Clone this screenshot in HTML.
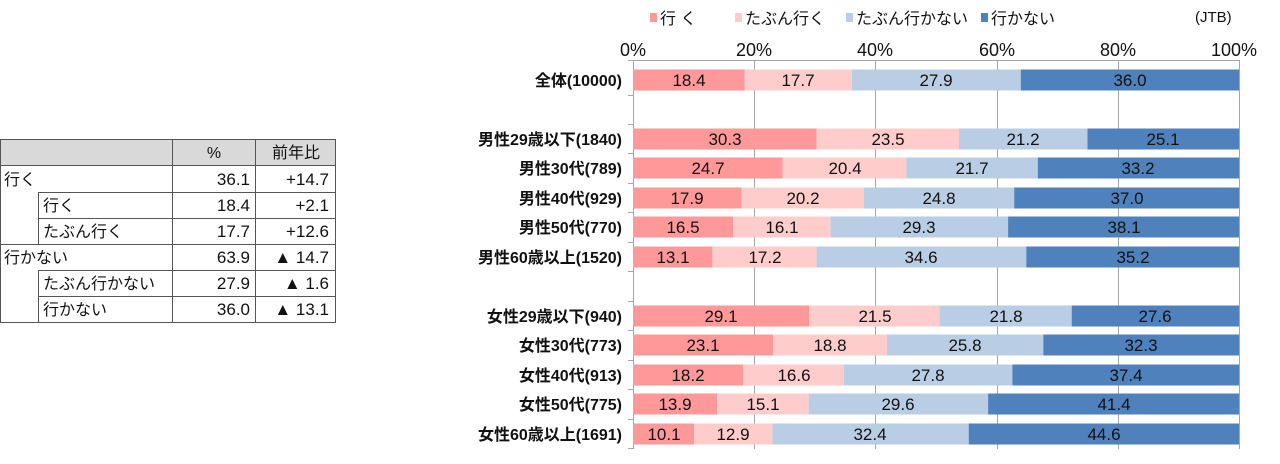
<!DOCTYPE html>
<html><head><meta charset="utf-8"><style>
html,body{margin:0;padding:0;background:#fff;}
svg{display:block;font-family:"Liberation Sans","Noto Sans CJK JP",sans-serif;}
</style></head><body>
<svg width="1280" height="464" viewBox="0 0 1280 464">
<rect x="0.5" y="139.5" width="335" height="26" fill="#d9d9d9"/>
<g stroke="#555" stroke-width="1" fill="none">
<rect x="0.5" y="139.5" width="335" height="183"/>
<line x1="0" y1="165.5" x2="336" y2="165.5"/>
<line x1="38.5" y1="192.5" x2="336" y2="192.5"/>
<line x1="38.5" y1="218.5" x2="336" y2="218.5"/>
<line x1="0" y1="244.5" x2="336" y2="244.5"/>
<line x1="38.5" y1="270.5" x2="336" y2="270.5"/>
<line x1="38.5" y1="296.5" x2="336" y2="296.5"/>
<line x1="38.5" y1="192" x2="38.5" y2="244"/>
<line x1="38.5" y1="270" x2="38.5" y2="322"/>
<line x1="172.5" y1="139" x2="172.5" y2="322"/>
<line x1="255.5" y1="139" x2="255.5" y2="322"/>
</g>
<g font-size="16" fill="#111">
<text x="214" y="158" text-anchor="middle">%</text>
<text x="296" y="158" text-anchor="middle">前年比</text>
<text x="4" y="185">行く</text>
<text x="43" y="211">行く</text>
<text x="43" y="237">たぶん行く</text>
<text x="4" y="263">行かない</text>
<text x="43" y="289">たぶん行かない</text>
<text x="43" y="315">行かない</text>
<g text-anchor="end" font-size="17">
<text x="250" y="185">36.1</text><text x="329" y="185">+14.7</text>
<text x="250" y="211">18.4</text><text x="329" y="211">+2.1</text>
<text x="250" y="237">17.7</text><text x="329" y="237">+12.6</text>
<text x="250" y="263">63.9</text><text x="329" y="263">▲ 14.7</text>
<text x="250" y="289">27.9</text><text x="329" y="289">▲ 1.6</text>
<text x="250" y="315">36.0</text><text x="329" y="315">▲ 13.1</text>
</g></g>

<g font-size="16" fill="#111">
<rect x="650" y="13" width="7" height="9" fill="#ff9999"/><text x="660" y="24">行 く</text>
<rect x="735" y="13" width="7" height="9" fill="#ffcccc"/><text x="745" y="24">たぶん行く</text>
<rect x="846" y="13" width="7" height="9" fill="#b9cde5"/><text x="856" y="24">たぶん行かない</text>
<rect x="981" y="13" width="7" height="9" fill="#4f81bd"/><text x="991" y="24">行かない</text>
<text x="1195" y="22" font-size="15">(JTB)</text>
</g>
<g font-size="18" fill="#111" text-anchor="middle">
<text x="633" y="56">0%</text><text x="754" y="56">20%</text><text x="875" y="56">40%</text>
<text x="997" y="56">60%</text><text x="1118" y="56">80%</text><text x="1234" y="56">100%</text>
</g>
<g stroke="#a6a6a6" stroke-width="1">
<line x1="633.5" y1="60" x2="633.5" y2="449"/>
<line x1="754.5" y1="60" x2="754.5" y2="449"/>
<line x1="875.5" y1="60" x2="875.5" y2="449"/>
<line x1="997.5" y1="60" x2="997.5" y2="449"/>
<line x1="1118.5" y1="60" x2="1118.5" y2="449"/>
<line x1="1239.5" y1="60" x2="1239.5" y2="449"/>
<line x1="628" y1="60.5" x2="1240" y2="60.5"/>
<line x1="628" y1="95.5" x2="633" y2="95.5"/>
<line x1="628" y1="124.5" x2="633" y2="124.5"/>
<line x1="628" y1="153.5" x2="633" y2="153.5"/>
<line x1="628" y1="183.5" x2="633" y2="183.5"/>
<line x1="628" y1="212.5" x2="633" y2="212.5"/>
<line x1="628" y1="242.5" x2="633" y2="242.5"/>
<line x1="628" y1="271.5" x2="633" y2="271.5"/>
<line x1="628" y1="301.5" x2="633" y2="301.5"/>
<line x1="628" y1="330.5" x2="633" y2="330.5"/>
<line x1="628" y1="360.5" x2="633" y2="360.5"/>
<line x1="628" y1="389.5" x2="633" y2="389.5"/>
<line x1="628" y1="419.5" x2="633" y2="419.5"/>
<line x1="628" y1="448.5" x2="633" y2="448.5"/>
</g>

<g>
<rect x="633" y="69.5" width="111.5" height="21" fill="#ff9999"/><rect x="744.5" y="69.5" width="107.3" height="21" fill="#ffcccc"/><rect x="851.8" y="69.5" width="169" height="21" fill="#b9cde5"/><rect x="1020.8" y="69.5" width="218.2" height="21" fill="#4f81bd"/>
<rect x="633" y="128.5" width="183.6" height="21" fill="#ff9999"/><rect x="816.6" y="128.5" width="142.4" height="21" fill="#ffcccc"/><rect x="959" y="128.5" width="128.5" height="21" fill="#b9cde5"/><rect x="1087.5" y="128.5" width="151.5" height="21" fill="#4f81bd"/>
<rect x="633" y="157.5" width="149.7" height="21" fill="#ff9999"/><rect x="782.7" y="157.5" width="123.6" height="21" fill="#ffcccc"/><rect x="906.3" y="157.5" width="131.5" height="21" fill="#b9cde5"/><rect x="1037.8" y="157.5" width="201.2" height="21" fill="#4f81bd"/>
<rect x="633" y="187.5" width="108.5" height="21" fill="#ff9999"/><rect x="741.5" y="187.5" width="122.4" height="21" fill="#ffcccc"/><rect x="863.9" y="187.5" width="150.3" height="21" fill="#b9cde5"/><rect x="1014.2" y="187.5" width="224.8" height="21" fill="#4f81bd"/>
<rect x="633" y="216.5" width="100" height="21" fill="#ff9999"/><rect x="733" y="216.5" width="97.6" height="21" fill="#ffcccc"/><rect x="830.6" y="216.5" width="177.5" height="21" fill="#b9cde5"/><rect x="1008.1" y="216.5" width="230.9" height="21" fill="#4f81bd"/>
<rect x="633" y="246.5" width="79.4" height="21" fill="#ff9999"/><rect x="712.4" y="246.5" width="104.2" height="21" fill="#ffcccc"/><rect x="816.6" y="246.5" width="209.7" height="21" fill="#b9cde5"/><rect x="1026.3" y="246.5" width="212.7" height="21" fill="#4f81bd"/>
<rect x="633" y="305.5" width="176.3" height="21" fill="#ff9999"/><rect x="809.3" y="305.5" width="130.3" height="21" fill="#ffcccc"/><rect x="939.6" y="305.5" width="132.1" height="21" fill="#b9cde5"/><rect x="1071.7" y="305.5" width="167.3" height="21" fill="#4f81bd"/>
<rect x="633" y="334.5" width="140" height="21" fill="#ff9999"/><rect x="773" y="334.5" width="113.9" height="21" fill="#ffcccc"/><rect x="886.9" y="334.5" width="156.4" height="21" fill="#b9cde5"/><rect x="1043.3" y="334.5" width="195.7" height="21" fill="#4f81bd"/>
<rect x="633" y="364.5" width="110.3" height="21" fill="#ff9999"/><rect x="743.3" y="364.5" width="100.6" height="21" fill="#ffcccc"/><rect x="843.9" y="364.5" width="168.5" height="21" fill="#b9cde5"/><rect x="1012.4" y="364.5" width="226.6" height="21" fill="#4f81bd"/>
<rect x="633" y="393.5" width="84.2" height="21" fill="#ff9999"/><rect x="717.2" y="393.5" width="91.5" height="21" fill="#ffcccc"/><rect x="808.7" y="393.5" width="179.4" height="21" fill="#b9cde5"/><rect x="988.1" y="393.5" width="250.9" height="21" fill="#4f81bd"/>
<rect x="633" y="423.5" width="61.2" height="21" fill="#ff9999"/><rect x="694.2" y="423.5" width="78.2" height="21" fill="#ffcccc"/><rect x="772.4" y="423.5" width="196.3" height="21" fill="#b9cde5"/><rect x="968.7" y="423.5" width="270.3" height="21" fill="#4f81bd"/>
</g>

<g font-size="16" font-weight="bold" fill="#111" text-anchor="end">
<text x="622" y="86">全体(10000)</text>
<text x="622" y="145">男性29歳以下(1840)</text>
<text x="622" y="174">男性30代(789)</text>
<text x="622" y="204">男性40代(929)</text>
<text x="622" y="233">男性50代(770)</text>
<text x="622" y="263">男性60歳以上(1520)</text>
<text x="622" y="322">女性29歳以下(940)</text>
<text x="622" y="351">女性30代(773)</text>
<text x="622" y="381">女性40代(913)</text>
<text x="622" y="410">女性50代(775)</text>
<text x="622" y="440">女性60歳以上(1691)</text>
</g>

<g font-size="17" fill="#111" text-anchor="middle">
<text x="689" y="86">18.4</text><text x="798" y="86">17.7</text><text x="936" y="86">27.9</text><text x="1130" y="86">36.0</text>
<text x="725" y="145">30.3</text><text x="888" y="145">23.5</text><text x="1023" y="145">21.2</text><text x="1163" y="145">25.1</text>
<text x="708" y="174">24.7</text><text x="845" y="174">20.4</text><text x="972" y="174">21.7</text><text x="1138" y="174">33.2</text>
<text x="687" y="204">17.9</text><text x="803" y="204">20.2</text><text x="939" y="204">24.8</text><text x="1127" y="204">37.0</text>
<text x="683" y="233">16.5</text><text x="782" y="233">16.1</text><text x="919" y="233">29.3</text><text x="1124" y="233">38.1</text>
<text x="673" y="263">13.1</text><text x="765" y="263">17.2</text><text x="921" y="263">34.6</text><text x="1133" y="263">35.2</text>
<text x="721" y="322">29.1</text><text x="875" y="322">21.5</text><text x="1006" y="322">21.8</text><text x="1155" y="322">27.6</text>
<text x="703" y="351">23.1</text><text x="830" y="351">18.8</text><text x="965" y="351">25.8</text><text x="1141" y="351">32.3</text>
<text x="688" y="381">18.2</text><text x="794" y="381">16.6</text><text x="928" y="381">27.8</text><text x="1126" y="381">37.4</text>
<text x="675" y="410">13.9</text><text x="763" y="410">15.1</text><text x="898" y="410">29.6</text><text x="1114" y="410">41.4</text>
<text x="664" y="440">10.1</text><text x="733" y="440">12.9</text><text x="870" y="440">32.4</text><text x="1104" y="440">44.6</text>
</g>
</svg>
</body></html>
